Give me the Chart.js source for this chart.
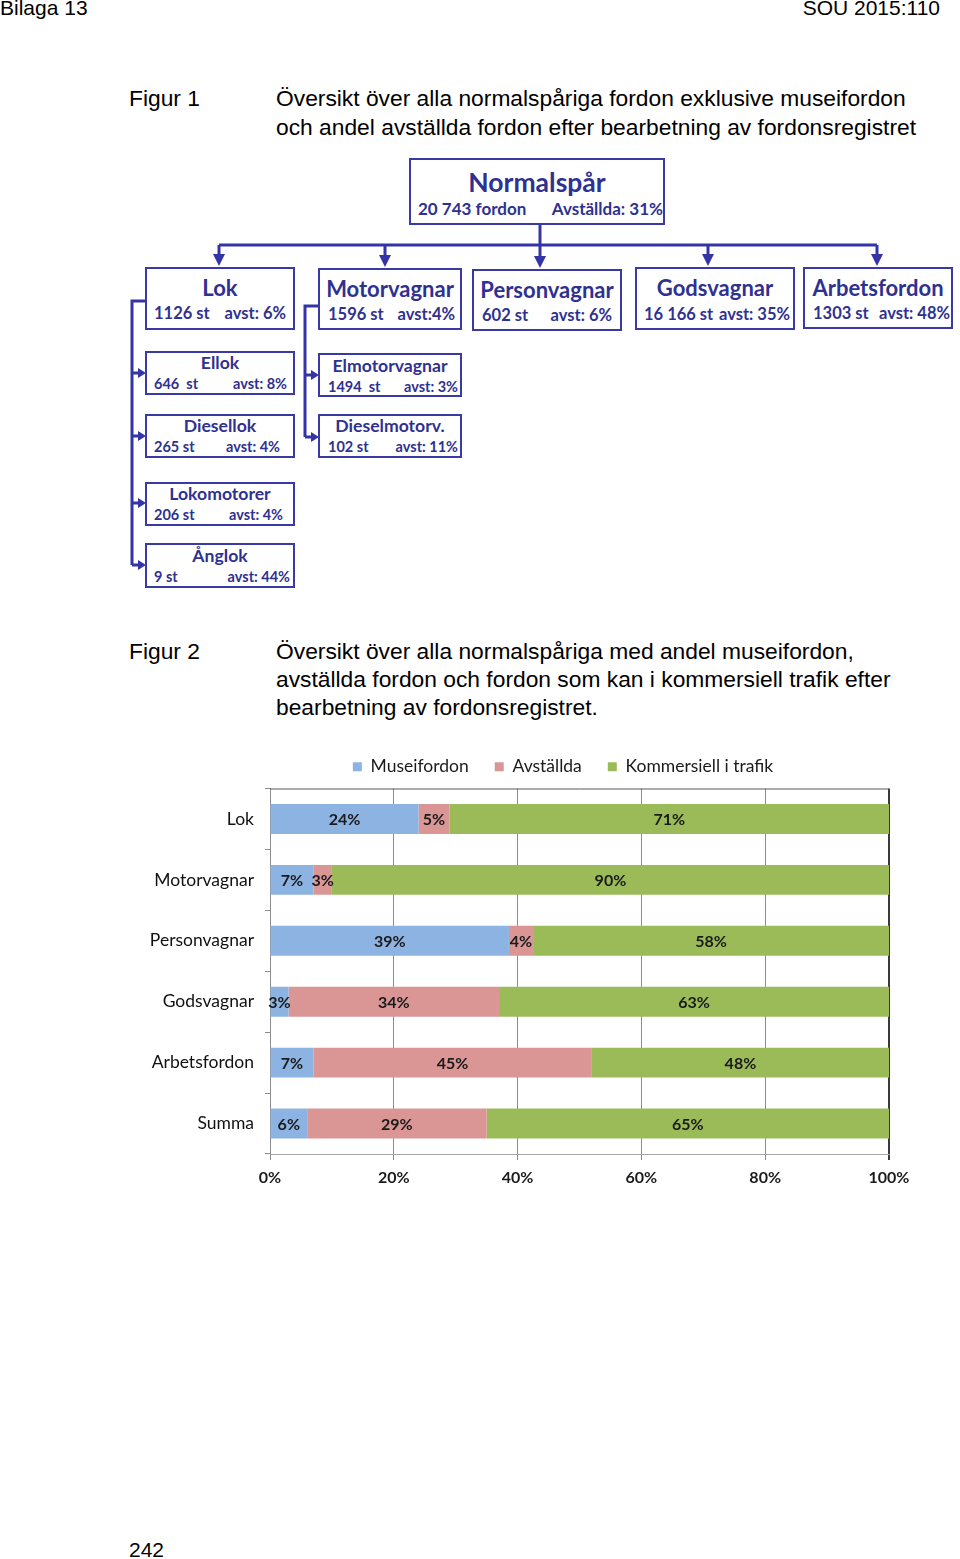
<!DOCTYPE html>
<html>
<head>
<meta charset="utf-8">
<script src="https://cdn.jsdelivr.net/npm/chart.js@4"></script>
<style>
  body { margin: 0; background: #fff; }
  #page { position: relative; width: 960px; height: 1559px; overflow: hidden; font-family: "Liberation Sans", Arial, sans-serif; color: #000; }
  .txt { position: absolute; white-space: nowrap; }
  .hd { font-size: 21px; line-height: 22px; }
  .fig { font-size: 22.8px; line-height: 29px; }
  .box { position: absolute; box-sizing: border-box; border: 2px solid #3a3aa6; background: #fff; font-family: Lato, "Open Sans", sans-serif; font-weight: bold; color: #2f3190; }
  .box .t { position: absolute; left: 0; right: 0; text-align: center; white-space: nowrap; }
  .box .l { position: absolute; left: 0; right: 0; display: flex; justify-content: space-between; white-space: nowrap; }
  #chartWrap { position: absolute; left: 146px; top: 732px; width: 814px; height: 462px; }
</style>
</head>
<body>
<div id="page">
  <div class="txt hd" style="left:0; top:-3px;">Bilaga 13</div>
  <div class="txt hd" style="right:20px; top:-3px;">SOU 2015:110</div>

  <div class="txt fig" style="left:129px; top:84px;">Figur 1</div>
  <div class="txt fig" style="left:276px; top:84px;">Översikt över alla normalspåriga fordon exklusive museifordon<br>och andel avställda fordon efter bearbetning av fordonsregistret</div>

  <svg width="960" height="600" style="position:absolute;left:0;top:0">
    <g stroke="#3434a8" stroke-width="3" fill="none">
      <path d="M540 225 V260"/>
      <path d="M219 245 H877"/>
      <path d="M219 245 V258 M385 245 V258 M708 245 V258 M877 245 V258"/>
      <path d="M145 301 H132 V565"/>
      <path d="M132 373 H139 M132 436 H139 M132 503 H139 M132 565 H139"/>
      <path d="M318 306 H305 V437"/>
      <path d="M305 375 H312 M305 437 H312"/>
    </g>
    <g fill="#3434a8">
      <polygon points="213,254 225,254 219,266"/>
      <polygon points="379,255 391,255 385,267"/>
      <polygon points="534,256 546,256 540,268"/>
      <polygon points="702,254 714,254 708,266"/>
      <polygon points="871,254 883,254 877,266"/>
      <polygon points="138,368 138,378 146,373"/>
      <polygon points="138,431 138,441 146,436"/>
      <polygon points="138,498 138,508 146,503"/>
      <polygon points="138,560 138,570 146,565"/>
      <polygon points="311,370 311,380 319,375"/>
      <polygon points="311,432 311,442 319,437"/>
    </g>
  </svg>
  <div id="diagram"></div>

  <div class="txt fig" style="left:129px; top:637px; line-height:28px;">Figur 2</div>
  <div class="txt fig" style="left:276px; top:637px; line-height:28px;">Översikt över alla normalspåriga med andel museifordon,<br>avställda fordon och fordon som kan i kommersiell trafik efter<br>bearbetning av fordonsregistret.</div>

  <div id="chartWrap"><canvas id="barChart"></canvas></div>

  <div class="txt hd" style="left:129px; top:1539px;">242</div>
</div>

<script>
// chart data (figur 2)
const categories = ['Lok', 'Motorvagnar', 'Personvagnar', 'Godsvagnar', 'Arbetsfordon', 'Summa'];
const seriesNames = ['Museifordon', 'Avställda', 'Kommersiell i trafik'];
const museifordon = [24, 7, 38.6, 3, 7, 6];
const avstallda = [5, 3, 3.9, 34, 45, 29];
const kommersiell = [71, 90, 57.5, 63, 48, 65];
const xTicks = [0, 20, 40, 60, 80, 100];
const colors = ['#8db3e2', '#d99694', '#9bbb59'];

// figur 1 boxes
const boxes = [
  {x: 409, y: 158, w: 256, h: 67, t: 'Normalspår', a: '20 743 fordon', b: 'Avställda: 31%', ts: 26.5, ty: 24, ls: 17, ly: 51, lp: 7, rp: 0},
  {x: 145, y: 267, w: 150, h: 63, t: 'Lok', a: '1126 st', b: 'avst: 6%', ts: 22, ty: 21, ls: 16.5, ly: 46, lp: 7, rp: 7},
  {x: 318, y: 268, w: 144, h: 62, t: 'Motorvagnar', a: '1596 st', b: 'avst:4%', ts: 22, ty: 21, ls: 16.5, ly: 46, lp: 8, rp: 5},
  {x: 472, y: 269, w: 150, h: 62, t: 'Personvagnar', a: '602 st', b: 'avst: 6%', ts: 22, ty: 21, ls: 16.5, ly: 46, lp: 8, rp: 8},
  {x: 635, y: 267, w: 160, h: 63, t: 'Godsvagnar', a: '16 166 st', b: 'avst: 35%', ts: 22, ty: 21, ls: 16.5, ly: 47, lp: 7, rp: 3},
  {x: 803, y: 267, w: 150, h: 62, t: 'Arbetsfordon', a: '1303 st', b: 'avst: 48%', ts: 22, ty: 21, ls: 16.5, ly: 46, lp: 8, rp: 1},
  {x: 145, y: 351, w: 150, h: 44, t: 'Ellok', a: '646&nbsp; st', b: 'avst: 8%', ts: 17.6, ty: 12, ls: 14.5, ly: 33, lp: 7, rp: 6},
  {x: 145, y: 414, w: 150, h: 44, t: 'Diesellok', a: '265 st', b: 'avst: 4%', ts: 17.6, ty: 12, ls: 14.5, ly: 33, lp: 7, rp: 13},
  {x: 145, y: 482, w: 150, h: 44, t: 'Lokomotorer', a: '206 st', b: 'avst: 4%', ts: 17.6, ty: 12, ls: 14.5, ly: 33, lp: 7, rp: 10},
  {x: 145, y: 543, w: 150, h: 45, t: 'Ånglok', a: '9 st', b: 'avst: 44%', ts: 17.6, ty: 13, ls: 14.5, ly: 34, lp: 7, rp: 3},
  {x: 318, y: 353, w: 144, h: 44, t: 'Elmotorvagnar', a: '1494&nbsp; st', b: 'avst: 3%', ts: 17.6, ty: 13, ls: 14.5, ly: 34, lp: 8, rp: 2},
  {x: 318, y: 414, w: 144, h: 44, t: 'Dieselmotorv.', a: '102 st', b: 'avst: 11%', ts: 17.6, ty: 12, ls: 14.5, ly: 33, lp: 8, rp: 2}
];

const diagram = document.getElementById('diagram');
boxes.forEach(function (b) {
  const el = document.createElement('div');
  el.className = 'box';
  el.style.left = b.x + 'px';
  el.style.top = b.y + 'px';
  el.style.width = b.w + 'px';
  el.style.height = b.h + 'px';
  el.innerHTML =
    '<div class="t" style="font-size:' + b.ts + 'px;line-height:24px;top:' + (b.ty - 14) + 'px">' + b.t + '</div>' +
    '<div class="l" style="font-size:' + b.ls + 'px;line-height:20px;top:' + (b.ly - 12) + 'px;padding:0 ' + b.rp + 'px 0 ' + b.lp + 'px">' +
    '<span>' + b.a + '</span><span>' + b.b + '</span></div>';
  diagram.appendChild(el);
});

// labels in the middle of each bar piece
const barLabels = {
  id: 'barLabels',
  afterDatasetsDraw(chart) {
    const ctx = chart.ctx;
    ctx.save();
    ctx.font = 'bold 16px Lato';
    ctx.fillStyle = '#1a1a1a';
    ctx.textAlign = 'center';
    ctx.textBaseline = 'middle';
    chart.data.datasets.forEach(function (ds, i) {
      chart.getDatasetMeta(i).data.forEach(function (bar, j) {
        ctx.fillText(Math.round(ds.data[j]) + '%', (bar.x + bar.base) / 2, bar.y + 1);
      });
    });
    // top border of plot area
    const a = chart.chartArea;
    ctx.strokeStyle = '#595959';
    ctx.lineWidth = 1;
    ctx.beginPath();
    ctx.moveTo(a.left, a.top + 0.5);
    ctx.lineTo(a.right, a.top + 0.5);
    ctx.stroke();
    ctx.restore();
  }
};

// a bit more room under the legend, and nudge it right like the original
const legendGap = {
  id: 'legendGap',
  beforeInit(chart) {
    const fit = chart.legend.fit;
    chart.legend.fit = function () {
      fit.bind(chart.legend)();
      this.height += 3;
    };
  },
  afterLayout(chart) {
    chart.legend.left += 10;
    chart.legend.right += 10;
  }
};

const ctx = document.getElementById('barChart').getContext('2d');
const myChart = new Chart(ctx, {
  type: 'bar',
  data: {
    labels: categories,
    datasets: [
      {label: seriesNames[0], data: museifordon, backgroundColor: colors[0]},
      {label: seriesNames[1], data: avstallda, backgroundColor: colors[1]},
      {label: seriesNames[2], data: kommersiell, backgroundColor: colors[2]}
    ]
  },
  options: {
    indexAxis: 'y',
    responsive: true,
    maintainAspectRatio: false,
    animation: false,
    categoryPercentage: 1,
    barPercentage: 0.49,
    layout: {padding: 0},
    plugins: {
      legend: {
        position: 'top',
        labels: {
          boxWidth: 9,
          boxHeight: 9,
          padding: 26,
          color: '#1a1a1a',
          font: {family: 'Lato', size: 17.5}
        }
      },
      tooltip: {enabled: false}
    },
    scales: {
      x: {
        stacked: true,
        min: 0,
        max: 100,
        afterBuildTicks: function (s) { s.ticks = xTicks.map(v => ({value: v})); },
        afterFit: function (s) { s.height = 40; },
        ticks: {
          callback: v => v + '%',
          color: '#1a1a1a',
          padding: 8,
          font: {family: 'Lato', size: 16, weight: 'bold'}
        },
        grid: {
          color: c => c.tick && c.tick.value === 100 ? '#3a3a3a' : '#8c8c8c',
          lineWidth: c => c.tick && c.tick.value === 100 ? 2 : 1,
          tickLength: 6
        },
        border: {display: true, color: '#a6a6a6'}
      },
      y: {
        stacked: true,
        afterFit: function (s) { s.width = 124; },
        ticks: {
          color: '#111',
          padding: 11,
          font: {family: 'Lato', size: 17.5}
        },
        grid: {drawOnChartArea: false, tickLength: 5, color: '#8c8c8c'},
        border: {display: true, color: '#8c8c8c'}
      },
      y2: {
        type: 'linear',
        position: 'right',
        display: true,
        afterFit: function (s) { s.width = 71; },
        ticks: {display: false},
        grid: {display: false},
        border: {display: false}
      }
    }
  },
  plugins: [barLabels, legendGap]
});
</script>
</body>
</html>
